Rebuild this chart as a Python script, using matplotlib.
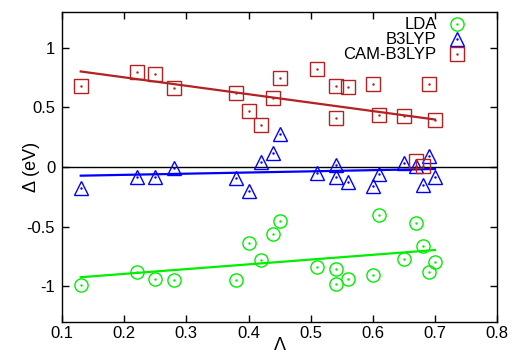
import matplotlib
matplotlib.use("Agg")
import matplotlib.pyplot as plt
import numpy as np
from matplotlib.legend_handler import HandlerTuple

plt.rcParams['font.family'] = ['Liberation Sans', 'DejaVu Sans']
plt.rcParams['axes.unicode_minus'] = False

# Lambda values (shared by all three functionals)
lam = [0.13, 0.22, 0.25, 0.28, 0.38, 0.40, 0.42, 0.44, 0.45, 0.51,
       0.54, 0.54, 0.56, 0.60, 0.61, 0.65, 0.67, 0.68, 0.69, 0.70]

# errors in eV
lda = [-0.99, -0.88, -0.94, -0.95, -0.95, -0.64, -0.78, -0.56, -0.45, -0.84,
       -0.98, -0.86, -0.94, -0.91, -0.40, -0.77, -0.47, -0.66, -0.88, -0.80]
b3lyp = [-0.18, -0.08, -0.08, -0.01, -0.09, -0.20, 0.04, 0.12, 0.28, -0.05,
         -0.08, 0.02, -0.13, -0.16, -0.06, 0.03, 0.01, -0.15, 0.09, -0.08]
cam = [0.68, 0.80, 0.78, 0.66, 0.62, 0.47, 0.35, 0.58, 0.75, 0.82,
       0.41, 0.68, 0.67, 0.70, 0.44, 0.43, 0.05, 0.01, 0.70, 0.39]

series = [
    ("LDA", lda, '#00ee00', 'o'),
    ("B3LYP", b3lyp, '#0000ff', '^'),
    ("CAM-B3LYP", cam, '#b22222', 's'),
]

fig = plt.figure(figsize=(5.13, 3.53), dpi=100)
ax = fig.add_axes([0.121, 0.088, 0.848, 0.878])

ax.axhline(0, color='black', lw=1, zorder=1)

x = np.array(lam)
handles = []
for name, vals, col, mk in series:
    y = np.array(vals)
    m = ax.plot(x, y, ls='none', marker=mk, ms=9.5, mfc='none', mec=col,
                mew=1.0, zorder=3)[0]
    d = ax.plot(x, y, ls='none', marker='.', ms=1.5, color=col, zorder=3)[0]
    # least-squares trend line over the data range
    k, b = np.polyfit(x, y, 1)
    xf = np.array([x.min(), x.max()])
    ax.plot(xf, k * xf + b, color=col, lw=1.6, zorder=2)
    handles.append((m, d))

ax.legend(handles, [s[0] for s in series], loc='upper right',
          bbox_to_anchor=(0.957, 1.02),
          markerfirst=False, frameon=False, fontsize=12,
          handler_map={tuple: HandlerTuple(ndivide=1)},
          handlelength=1.2, handletextpad=0.6, labelspacing=0.0,
          borderaxespad=0.3)

ax.set_xlim(0.1, 0.8)
ax.set_ylim(-1.3, 1.3)
ax.set_xticks([0.1, 0.2, 0.3, 0.4, 0.5, 0.6, 0.7, 0.8])
ax.set_xticklabels(['0.1', '0.2', '0.3', '0.4', '0.5', '0.6', '0.7', '0.8'])
ax.set_yticks([-1, -0.5, 0, 0.5, 1])
ax.set_yticklabels(['-1', '-0.5', '0', '0.5', '1'])
ax.tick_params(direction='in', top=True, right=True, length=5, width=1,
               labelsize=12)
ax.tick_params(axis='x', pad=3)
ax.tick_params(axis='y', pad=5)
for sp in ax.spines.values():
    sp.set_linewidth(1)

ax.set_xlabel('Λ', fontsize=13)
ax.set_ylabel('Δ (eV)', fontsize=13)
ax.xaxis.set_label_coords(0.5, -0.05)
ax.yaxis.set_label_coords(-0.05, 0.5)

fig.savefig('out.png', dpi=100)
